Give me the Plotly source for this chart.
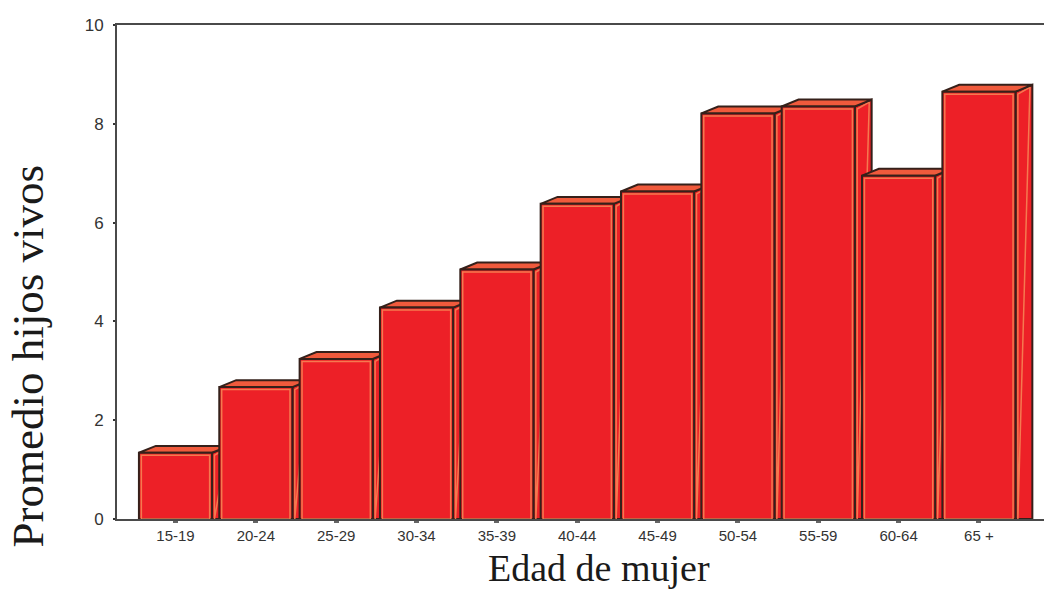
import plotly.graph_objects as go

# Mean number of living children by age group of the woman
grupos_edad = ["15-19", "20-24", "25-29", "30-34", "35-39", "40-44",
               "45-49", "50-54", "55-59", "60-64", "65 +"]
promedio_hijos = [1.34, 2.67, 3.24, 4.28, 5.05, 6.38, 6.63, 8.21, 8.35, 6.95, 8.65]
y_ticks = [0, 2, 4, 6, 8, 10]

# 3D box geometry (in axis units)
ANCHO = 0.91      # front face width (category units)
PROF_X = 0.21     # depth offset along x
PROF_Y = 0.14     # depth offset along y
INS_X = 0.03      # inset for the inner highlight edge
INS_Y = 0.05

ROJO = "#ED2027"
TAPA = "#F05A3C"
BORDE_CLARO = "#F5794F"
CONTORNO = "#35201A"

fig = go.Figure()


def cara(xs, ys, relleno, color_linea, ancho_linea):
    fig.add_trace(go.Scatter(
        x=xs + [xs[0]], y=ys + [ys[0]], mode="lines",
        fill="toself" if relleno else "none",
        fillcolor=relleno if relleno else None,
        line=dict(color=color_linea, width=ancho_linea),
        hoverinfo="skip", showlegend=False,
    ))


for i, v in enumerate(promedio_hijos):
    x0 = i - ANCHO / 2
    x1 = i + ANCHO / 2
    # side face
    cara([x1, x1 + PROF_X, x1 + PROF_X, x1],
         [0, 0, v + PROF_Y, v], ROJO, CONTORNO, 2)
    cara([x1 + INS_X, x1 + INS_X, x1 + PROF_X - INS_X],
         [0, v - INS_Y, v + PROF_Y - INS_Y], None, BORDE_CLARO, 1.5)
    # top face
    cara([x0, x0 + PROF_X, x1 + PROF_X, x1],
         [v, v + PROF_Y, v + PROF_Y, v], TAPA, CONTORNO, 2)
    # front face
    cara([x0, x0, x1, x1], [0, v, v, 0], ROJO, CONTORNO, 2)
    cara([x0 + INS_X, x0 + INS_X, x1 - INS_X, x1 - INS_X],
         [0, v - INS_Y, v - INS_Y, 0], None, BORDE_CLARO, 1.5)

fig.update_layout(
    width=1044, height=589,
    margin=dict(l=117, r=0, t=25, b=70),
    paper_bgcolor="white", plot_bgcolor="white",
    showlegend=False,
    xaxis=dict(
        range=[-0.728, 10.81],
        tickmode="array", tickvals=list(range(len(grupos_edad))),
        ticktext=grupos_edad,
        showgrid=False, zeroline=False,
        showline=True, mirror=True, linecolor="#4a4a4a", linewidth=2,
        ticks="outside", ticklen=2, tickwidth=5, tickcolor="#666",
        ticklabelstandoff=0,
        tickfont=dict(family="Liberation Sans, Arial", size=15, color="#333"),
    ),
    yaxis=dict(
        range=[0, 10],
        tickmode="array", tickvals=y_ticks,
        showgrid=False, zeroline=False,
        showline=True, linecolor="#4a4a4a", linewidth=2,
        ticks="outside", ticklen=2, tickwidth=2, tickcolor="#333",
        ticklabelstandoff=6,
        tickfont=dict(family="Liberation Sans, Arial", size=17, color="#333"),
    ),
    annotations=[
        dict(text="Promedio hijos vivos", xref="paper", yref="paper",
             x=-0.096, y=0.329, xanchor="center", yanchor="middle",
             textangle=-90, showarrow=False,
             font=dict(family="Liberation Serif, Times New Roman", size=45, color="#1a1a1a")),
        dict(text="Edad de mujer", xref="paper", yref="paper",
             x=0.52, y=-0.0525, xanchor="center", yanchor="top",
             showarrow=False,
             font=dict(family="Liberation Serif, Times New Roman", size=38, color="#1a1a1a")),
    ],
)

fig.write_html("out.html")
